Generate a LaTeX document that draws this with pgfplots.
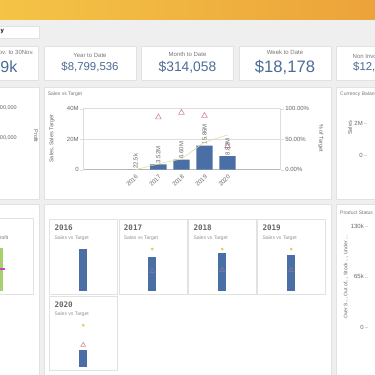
\documentclass[border=0pt]{standalone}
\usepackage{pgfplots}
\pgfplotsset{compat=1.18}
\usepackage{fontspec}
\setmainfont{Liberation Sans}
\newfontfamily\yearfont{DejaVu Sans Mono}
\newcommand{\fs}[1]{\fontsize{#1}{#1}\selectfont}
\definecolor{bg}{HTML}{EFEFEF}
\definecolor{bannerL}{HTML}{F4C446}
\definecolor{bannerR}{HTML}{ECA33A}
\definecolor{barblue}{HTML}{4A6FA5}
\definecolor{kpi}{HTML}{4B6B97}
\definecolor{lbl}{HTML}{777777}
\definecolor{tickc}{HTML}{666666}
\definecolor{gridc}{HTML}{DDDDDD}
\definecolor{zeroc}{HTML}{BBBBBB}
\definecolor{tri}{HTML}{D5889C}
\definecolor{staryel}{HTML}{E5C75A}
\definecolor{linebg}{HTML}{E6DBA0}
\definecolor{greenbar}{HTML}{A6D16E}
\definecolor{mag}{HTML}{D23CC4}
\definecolor{border}{HTML}{E2E2E2}
\pgfplotsset{every axis/.append style={/pgf/number format/assume math mode=true}}
\begin{document}
\begin{tikzpicture}[x=1pt,y=1pt]
\useasboundingbox (0,0) rectangle (375,375);
\clip (0,0) rectangle (375,375);
\fill[bg] (0,0) rectangle (375,375);
\shade[left color=bannerL, right color=bannerR] (0,355) rectangle (375,375);
% dropdown
\filldraw[fill=white, draw=border, line width=0.3pt] (-2,337) rectangle (39,349);
\node[anchor=west, inner sep=0, font=\fs{6}\bfseries] at (0.5,343) {y};
% KPI cards
\foreach \a/\b in {-5/38, 44/136, 141/233, 239/331, 336/380}
  \filldraw[fill=white, draw=border, line width=0.3pt] (\a,295) rectangle (\b,329);
\node[anchor=east, inner sep=0, font=\fs{6}, text=lbl] at (34,322.5) {1Nov. to 30Nov.};
\node[anchor=east, inner sep=0, font=\fs{16}, text=kpi] at (17.5,308) {\$719k};
\node[inner sep=0, font=\fs{6}, text=lbl] at (90,319.5) {Year to Date};
\node[inner sep=0, font=\fs{11.4}, text=kpi] at (90,308) {\$8,799,536};
\node[inner sep=0, font=\fs{6}, text=lbl] at (187.5,321) {Month to Date};
\node[inner sep=0, font=\fs{13.8}, text=kpi] at (187.5,308) {\$314,058};
\node[inner sep=0, font=\fs{6}, text=lbl] at (285,322.5) {Week to Date};
\node[inner sep=0, font=\fs{16.6}, text=kpi] at (285,308) {\$18,178};
\node[anchor=west, inner sep=0, font=\fs{6}, text=lbl] at (352.5,319) {Non Invoiced};
\node[anchor=west, inner sep=0, font=\fs{11.4}, text=kpi] at (353,308) {\$12,714,390};
% row 2 panels
\foreach \a/\b in {-5/39, 44/331, 336/380}
  \filldraw[fill=white, draw=border, line width=0.3pt] (\a,176) rectangle (\b,288);
% row 3 panels
\foreach \a/\b in {-5/39, 44/331, 336/380}
  \filldraw[fill=white, draw=border, line width=0.3pt] (\a,-5) rectangle (\b,171);
% row 2 left texts
\node[anchor=east, inner sep=0, font=\fs{5.5}, text=tickc] at (17,267) {20,000,000};
\node[anchor=east, inner sep=0, font=\fs{5.5}, text=tickc] at (17,237) {10,000,000};
\node[rotate=-90, inner sep=0, font=\fs{5.5}, text=tickc] at (36,239) {Profit};
% Sales vs Target titles
\node[anchor=west, inner sep=0, font=\fs{5}, text=lbl] at (47.7,281) {Sales vs Target};
\node[rotate=90, inner sep=0, font=\fs{5.5}, text=tickc] at (52,236) {Sales, Sales Target};
\node[rotate=-90, inner sep=0, font=\fs{5.5}, text=tickc] at (320.7,237) {\% of Target};
% main chart
\begin{axis}[
  at={(83.3pt,205.3pt)}, anchor=south west, scale only axis,
  width=197.4pt, height=61pt,
  xmin=-2.26, xmax=6.31, ymin=0, ymax=40,
  axis y line*=left, axis x line*=bottom,
  axis line style={-, draw=gridc, line width=0.5pt},
  x axis line style={draw=zeroc, line width=0.9pt},
  ytick={0,20,40}, yticklabels={0,20M,40M},
  xtick={0,1,2,3,4}, xticklabels={2016,2017,2018,2019,2020},
  x tick label style={rotate=45, anchor=north east, font=\fs{6}, text=tickc, inner sep=1pt},
  y tick label style={font=\fs{6}, text=tickc, inner sep=1.5pt},
  ymajorgrids, grid style={draw=gridc, line width=0.5pt},
  major tick length=3pt, tick align=outside, tick style={draw=gridc},
  xtick style={draw=none},
  clip=false,
]
\addplot[only marks, mark=triangle, mark size=3.3pt, draw=tri, mark options={line width=0.6pt}]
  coordinates {(1,34.4) (2,37.4) (3,35.4) (4,15.5)};
\addplot[ybar, bar width=16.3pt, fill=barblue, draw=none,
  point meta=explicit symbolic, nodes near coords,
  every node near coord/.append style={rotate=90, anchor=west, font=\fs{6}, text=tickc, inner sep=1pt}]
  coordinates {(0,0.0225)[22.5k] (1,3.52)[3.52M] (2,6.60)[6.60M] (3,15.86)[15.86M] (4,8.82)[8.82M]};
\end{axis}
\begin{axis}[
  at={(83.3pt,205.3pt)}, anchor=south west, scale only axis,
  width=197.4pt, height=61pt,
  xmin=-2.26, xmax=6.31, ymin=0, ymax=100,
  axis y line*=right, axis x line=none,
  axis line style={-, draw=gridc, line width=0.5pt},
  ytick={0,50,100}, yticklabels={0.00\%,50.00\%,100.00\%},
  y tick label style={font=\fs{6}, text=tickc, inner sep=1.5pt},
  major tick length=3pt, tick align=outside, tick style={draw=gridc},
  clip=false,
]
\addplot[linebg, line width=0.6pt] coordinates {(0,0) (1,9.5) (2,17.6) (3,45) (4,57)};
\end{axis}
% currency balance
\node[anchor=west, inner sep=0, font=\fs{5}, text=lbl] at (340,280.7) {Currency Balance};
\node[rotate=90, inner sep=0, font=\fs{5.5}, text=tickc] at (350,247) {Sales};
\begin{axis}[
  at={(367pt,220pt)}, anchor=south west, scale only axis,
  width=40pt, height=54pt, xmin=0, xmax=1, ymin=0, ymax=3.4,
  axis y line*=left, axis x line=none, axis line style={-, draw=none},
  ytick={0,2}, yticklabels={0,2M},
  y tick label style={font=\fs{6}, text=tickc, inner sep=1pt},
  major tick length=3pt, tick align=outside, tick style={draw=gridc},
]
\addplot[draw=none] coordinates {(0,0)};
\end{axis}
% row 3 left card
\filldraw[fill=white, draw=border, line width=0.3pt] (-5,81) rectangle (33,157);
\node[anchor=east, inner sep=0, font=\fs{5}, text=lbl] at (8.5,137) {Gross Profit};
\begin{axis}[at={(0pt,84pt)}, anchor=south, scale only axis, width=20pt, height=43pt,
  xmin=-1, xmax=1, ymin=0, ymax=1, hide axis, clip=false]
\addplot[ybar, bar width=6pt, fill=greenbar, draw=none] coordinates {(0,1)};
\addplot[only marks, mark=-, mark size=5pt, mag, mark options={line width=2pt}] coordinates {(0,0.5)};
\end{axis}
% small multiples
\foreach \a/\b/\c/\d in {49/81/117.3/156, 119/81/186.7/156, 188.3/81/256/156, 257.3/81/325/156, 49/5/117.3/79}
  \filldraw[fill=white, draw=border, line width=0.4pt] (\a,\b) rectangle (\c,\d);
\foreach \x/\y/\t in {54.3/147/2016, 123.7/147/2017, 193.3/147/2018, 262.3/147/2019, 54.3/70/2020}
  \node[anchor=west, inner sep=0, font=\yearfont\fs{7.6}\bfseries, text=tickc] at (\x,\y) {\t};
\foreach \x/\y in {54.3/137, 123.7/137, 193.3/137, 262.3/137, 54.3/60.7}
  \node[anchor=west, inner sep=0, font=\fs{5}, text=lbl!80] at (\x,\y) {Sales vs Target};
\pgfplotsset{mini/.style={anchor=south, scale only axis, width=40pt, height=42pt,
  xmin=-1, xmax=1, ymin=0, ymax=1, hide axis, clip=false}}
\begin{axis}[mini, at={(83.2pt,84pt)}]
\addplot[ybar, bar width=7.7pt, fill=barblue, draw=none] coordinates {(0,0.99)};
\end{axis}
\begin{axis}[mini, at={(152.2pt,84pt)}]
\addplot[ybar, bar width=7.7pt, fill=barblue, draw=none] coordinates {(0,0.817)};
\addplot[only marks, mark=triangle, mark size=2.8pt, draw=tri, opacity=0.5] coordinates {(0,0.476)};
\addplot[only marks, mark=*, mark size=1.1pt, fill=staryel, draw=staryel] coordinates {(0,1)};
\end{axis}
\begin{axis}[mini, at={(222.2pt,84pt)}]
\addplot[ybar, bar width=7.7pt, fill=barblue, draw=none] coordinates {(0,0.898)};
\addplot[only marks, mark=triangle, mark size=2.8pt, draw=tri, opacity=0.5] coordinates {(0,0.5)};
\addplot[only marks, mark=*, mark size=1.1pt, fill=staryel, draw=staryel] coordinates {(0,1)};
\end{axis}
\begin{axis}[mini, at={(291.2pt,84pt)}]
\addplot[ybar, bar width=7.7pt, fill=barblue, draw=none] coordinates {(0,0.857)};
\addplot[only marks, mark=triangle, mark size=2.8pt, draw=tri, opacity=0.5] coordinates {(0,0.5)};
\addplot[only marks, mark=*, mark size=1.1pt, fill=staryel, draw=staryel] coordinates {(0,1)};
\end{axis}
\begin{axis}[mini, at={(83.2pt,7.7pt)}]
\addplot[ybar, bar width=7.7pt, fill=barblue, draw=none] coordinates {(0,0.42)};
\addplot[only marks, mark=triangle, mark size=2.8pt, draw=tri, mark options={line width=0.6pt}] coordinates {(0,0.53)};
\addplot[only marks, mark=*, mark size=1.1pt, fill=staryel, draw=staryel] coordinates {(0,1)};
\end{axis}
% product status
\node[anchor=west, inner sep=0, font=\fs{5}, text=lbl] at (340,162.3) {Product Status};
\node[rotate=90, inner sep=0, font=\fs{5}, text=tickc] at (346,98) {Over S..., Out of..., Stock ..., Under ...};
\begin{axis}[
  at={(368pt,48pt)}, anchor=south west, scale only axis,
  width=40pt, height=100.5pt, xmin=0, xmax=1, ymin=0, ymax=130,
  axis y line*=left, axis x line=none, axis line style={-, draw=none},
  ytick={0,65,130}, yticklabels={0,65k,130k},
  y tick label style={font=\fs{6}, text=tickc, inner sep=1pt},
  major tick length=3pt, tick align=outside, tick style={draw=gridc},
]
\addplot[draw=none] coordinates {(0,0)};
\end{axis}
\end{tikzpicture}
\end{document}
